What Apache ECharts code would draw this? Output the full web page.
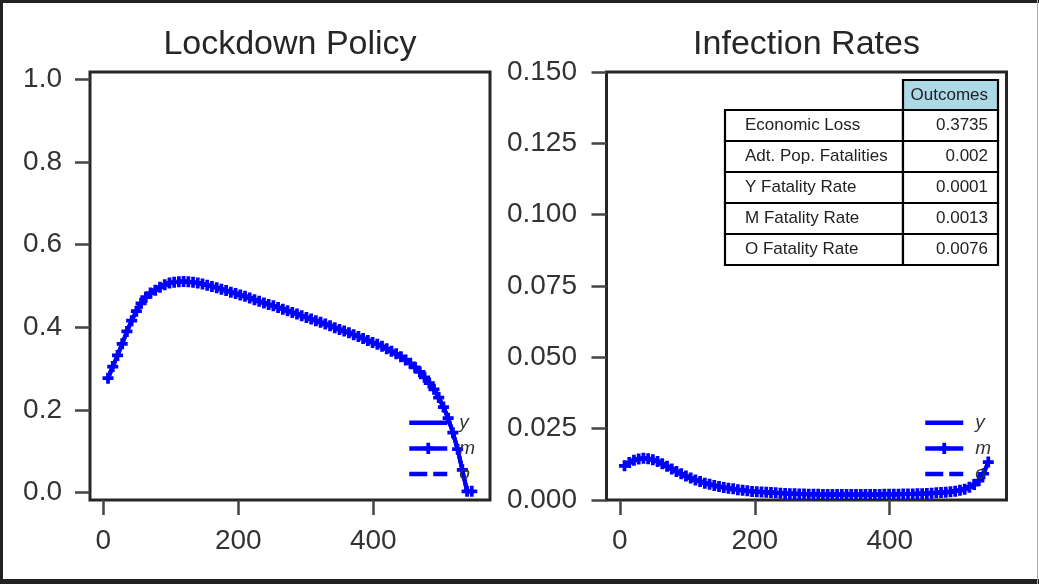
<!DOCTYPE html>
<html>
<head>
<meta charset="utf-8">
<script src="https://cdn.jsdelivr.net/npm/echarts@6/dist/echarts.min.js"></script>
<style>
html,body{margin:0;padding:0;background:#fff;}
#chart{position:absolute;left:0;top:0;width:1039px;height:584px;}
.bar{position:absolute;background:#222;}
</style>
</head>
<body>
<div id="chart"></div>
<div class="bar" style="left:0;top:0;width:1039px;height:3px;"></div>
<div class="bar" style="left:0;top:0;width:3px;height:584px;"></div>
<div class="bar" style="left:0;top:579px;width:1039px;height:5px;"></div>
<div style="position:absolute;left:1037px;top:0;width:1px;height:584px;background:#aaa;"></div>
<script>
// ---- data ----
const days = [7,14,21,28,35,42,49,56,63,70,77,84,91,98,105,112,119,126,133,140,
  147,154,161,168,175,182,189,196,203,210,217,224,231,238,245,252,259,266,273,280,
  287,294,301,308,315,322,329,336,343,350,357,364,371,378,385,392,399,406,413,420,
  427,434,441,448,455,462,469,476,483,490,497,504,511,518,525,532,539,546];

const lockdown = [0.277,0.305,0.332,0.360,0.390,0.416,0.439,0.458,0.473,0.483,
  0.490,0.497,0.503,0.507,0.509,0.5105,0.511,0.510,0.509,0.507,
  0.505,0.502,0.499,0.496,0.492,0.489,0.485,0.482,0.478,0.475,
  0.471,0.467,0.463,0.459,0.455,0.452,0.448,0.444,0.440,0.436,
  0.432,0.428,0.424,0.420,0.416,0.412,0.408,0.404,0.399,0.395,
  0.391,0.387,0.382,0.378,0.373,0.368,0.363,0.359,0.354,0.348,
  0.342,0.336,0.329,0.321,0.313,0.303,0.292,0.279,0.265,0.250,
  0.230,0.207,0.180,0.145,0.105,0.055,0.003,0.003];

const infection = [0.0120,0.0131,0.0139,0.0144,0.0146,0.0145,0.0141,0.0135,0.0127,0.0118,
  0.0109,0.0100,0.0092,0.0084,0.0077,0.0070,0.0065,0.0059,0.0055,0.0051,
  0.0047,0.0044,0.0041,0.0039,0.0036,0.0034,0.0032,0.0030,0.0029,0.0028,
  0.0027,0.0026,0.0025,0.0024,0.0023,0.0022,0.0022,0.0021,0.0021,0.0020,
  0.0020,0.0020,0.0019,0.0019,0.0019,0.0019,0.0019,0.0019,0.0019,0.0019,
  0.0019,0.0019,0.0019,0.0019,0.0019,0.0020,0.0020,0.0020,0.0020,0.0021,
  0.0021,0.0021,0.0022,0.0022,0.0023,0.0024,0.0025,0.0026,0.0027,0.0029,
  0.0031,0.0034,0.0038,0.0045,0.0054,0.0068,0.0092,0.0133];

const xTicks = [0,200,400];
const yTicksLeft = [0,0.2,0.4,0.6,0.8,1.0];
const groups = ['y','m','o'];
const titles = ['Lockdown Policy','Infection Rates'];
const tableHeader = 'Outcomes';
const tableRows = ['Economic Loss','Adt. Pop. Fatalities','Y Fatality Rate','M Fatality Rate','O Fatality Rate'];
const tableValues = ['0.3735','0.002','0.0001','0.0013','0.0076'];

// ---- chart ----
const FONT = 'Liberation Sans, Arial, sans-serif';
const BLUE = '#0000ff';
const PLUS = 'path://M3.3,0h3.4v3.3h3.3v3.4h-3.3v3.3h-3.4v-3.3h-3.3v-3.4h3.3z';
const pair = (ys) => days.map((d, i) => [d, ys[i]]);

const chart = echarts.init(document.getElementById('chart'), null, {renderer: 'canvas'});

const gridBase = {top: 72, height: 428, width: 400, show: true,
  borderColor: '#262626', borderWidth: 3, backgroundColor: 'transparent', containLabel: false};

const tickStyle = {color: '#444', width: 2.5};

function xAxis(gi) {
  return {type: 'value', gridIndex: gi, min: -19.7, max: 573, position: 'bottom',
    axisLine: {show: false, onZero: false}, splitLine: {show: false},
    axisTick: {show: true, inside: false, length: 15, customValues: xTicks, lineStyle: tickStyle},
    axisLabel: {customValues: xTicks, margin: 27, color: '#333', fontSize: 28, fontFamily: FONT,
      formatter: v => String(Math.round(v))}};
}

const seriesStyle = {
  y: {symbol: 'none', lineStyle: {type: 'solid'}},
  m: {symbol: PLUS, symbolSize: 11, showSymbol: true, lineStyle: {type: 'solid'}},
  o: {symbol: 'none', lineStyle: {type: [18, 6]}}
};

function makeSeries(gi, ys) {
  return groups.map((g) => Object.assign({
    name: g, type: 'line', xAxisIndex: gi, yAxisIndex: gi,
    data: pair(ys), color: BLUE, animation: false,
    itemStyle: {color: BLUE}, z: g === 'm' ? 4 : 3
  }, seriesStyle[g], {lineStyle: Object.assign({width: 4, color: BLUE}, seriesStyle[g].lineStyle)}));
}

function legend(left) {
  return {orient: 'vertical', left: left, top: 413.2, padding: 0, itemGap: 6.7, z: 20,
    itemWidth: 38, itemHeight: 14,
    lineStyle: {width: 4.5},
    selectedMode: false,
    textStyle: {fontStyle: 'italic', fontSize: 19, lineHeight: 19, color: '#333', fontFamily: FONT, padding: [0,0,0,7]},
    data: [{name: 'y', itemStyle: {opacity: 0}}, {name: 'm'}, {name: 'o', itemStyle: {opacity: 0}}]};
}

// table graphic
const tbl = [];
const cx0 = 725, cx1 = 903, cx2 = 998, rowTop = 110, rowH = 31;
const TFONT = '17px ' + FONT;
tbl.push({type: 'rect', shape: {x: cx1, y: 80, width: cx2 - cx1, height: 30},
  style: {fill: '#add8e6', stroke: '#000', lineWidth: 2.2}, z: 10});
tbl.push({type: 'text', x: cx2 - 10, y: 95, style: {text: tableHeader, textAlign: 'right', textVerticalAlign: 'middle',
  font: TFONT, fill: '#222'}, z: 11});
tableRows.forEach((r, i) => {
  const y = rowTop + i * rowH;
  tbl.push({type: 'rect', shape: {x: cx0, y: y, width: cx1 - cx0, height: rowH},
    style: {fill: '#fff', stroke: '#000', lineWidth: 2.2}, z: 10});
  tbl.push({type: 'rect', shape: {x: cx1, y: y, width: cx2 - cx1, height: rowH},
    style: {fill: '#fff', stroke: '#000', lineWidth: 2.2}, z: 10});
  tbl.push({type: 'text', x: cx0 + 20, y: y + rowH / 2, style: {text: r, textAlign: 'left', textVerticalAlign: 'middle',
    font: TFONT, fill: '#222'}, z: 11});
  tbl.push({type: 'text', x: cx2 - 10, y: y + rowH / 2, style: {text: tableValues[i], textAlign: 'right', textVerticalAlign: 'middle',
    font: TFONT, fill: '#222'}, z: 11});
});

const titleGraphics = [
  {type: 'text', x: 290, y: 45, style: {text: titles[0], textAlign: 'center', textVerticalAlign: 'middle',
    font: '34px ' + FONT, fill: '#262626'}},
  {type: 'text', x: 806.5, y: 45, style: {text: titles[1], textAlign: 'center', textVerticalAlign: 'middle',
    font: '34px ' + FONT, fill: '#262626'}}
];

chart.setOption({
  animation: false,
  backgroundColor: 'transparent',
  grid: [Object.assign({left: 90}, gridBase), Object.assign({left: 606.5}, gridBase)],
  xAxis: [xAxis(0), xAxis(1)],
  yAxis: [
    {type: 'value', gridIndex: 0, min: -0.018, max: 1.018, position: 'left',
      axisLine: {show: false, onZero: false}, splitLine: {show: false},
      axisTick: {show: true, inside: false, length: 15, customValues: yTicksLeft, lineStyle: tickStyle},
      axisLabel: {customValues: yTicksLeft, margin: 28, color: '#333', fontSize: 28, fontFamily: FONT,
        formatter: v => v.toFixed(1)}},
    {type: 'value', gridIndex: 1, min: 0, max: 0.15, interval: 0.025, position: 'left',
      axisLine: {show: false, onZero: false}, splitLine: {show: false},
      axisTick: {show: true, inside: false, length: 15, lineStyle: tickStyle},
      axisLabel: {margin: 29.5, color: '#333', fontSize: 28, fontFamily: FONT,
        showMinLabel: true, showMaxLabel: true, formatter: v => v.toFixed(3)}}
  ],
  legend: [legend(407), legend(923)],
  series: [...makeSeries(0, lockdown), ...makeSeries(1, infection)],
  graphic: [...titleGraphics, ...tbl]
});
</script>
</body>
</html>
